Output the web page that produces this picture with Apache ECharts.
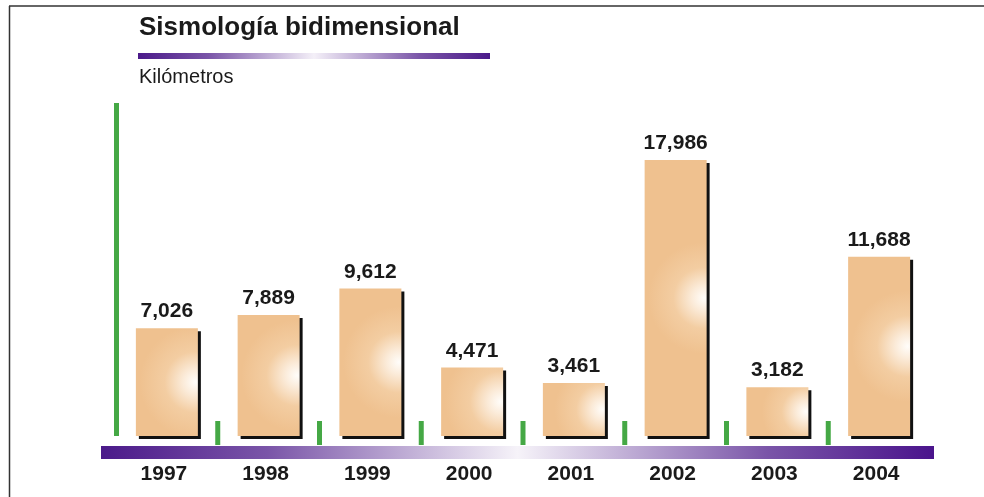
<!DOCTYPE html>
<html>
<head>
<meta charset="utf-8">
<script src="https://cdn.jsdelivr.net/npm/echarts@6/dist/echarts.min.js"></script>
<style>
  html, body { margin: 0; padding: 0; background: #fff; }
  #chart { width: 984px; height: 497px; }
</style>
</head>
<body>
<div id="chart"></div>
<script>
// Seismic 2D survey, kilometres per year
const years = ['1997', '1998', '1999', '2000', '2001', '2002', '2003', '2004'];
const kilometres = [7026, 7889, 9612, 4471, 3461, 17986, 3182, 11688];
const titleText = 'Sismología bidimensional';
const unitText = 'Kilómetros';

const FONT = '"Liberation Sans", Arial, Helvetica, sans-serif';
const GREEN = '#45a845';
const PURPLE = '#4b1a8a';

const chart = echarts.init(document.getElementById('chart'));

const fmt = v => v.toLocaleString('en-US');

chart.setOption({
  animation: false,
  backgroundColor: '#ffffff',
  grid: { left: 116, right: 54, top: 103, bottom: 61 },
  xAxis: {
    type: 'category',
    data: years,
    axisLine: { show: false },
    axisTick: { show: false },
    axisLabel: {
      margin: 28,
      fontFamily: FONT,
      fontWeight: 'bold',
      fontSize: 21,
      color: '#1a1a1a',
      padding: [0, 6, 0, 0]
    }
  },
  yAxis: {
    type: 'value',
    min: 0,
    max: 21700,
    axisLine: { show: true, lineStyle: { color: GREEN, width: 5, cap: 'butt' } },
    axisTick: { show: false },
    axisLabel: { show: false },
    splitLine: { show: false }
  },
  series: [
    {
      type: 'bar',
      data: kilometres,
      barWidth: 62,
      z: 3,
      itemStyle: {
        color: {
          type: 'radial', x: 0.96, y: 0.5, r: 0.9,
          colorStops: [
            { offset: 0, color: '#fffdfa' },
            { offset: 0.22, color: '#fbebd9' },
            { offset: 0.55, color: '#f3cda2' },
            { offset: 1, color: '#efc18f' }
          ]
        },
        shadowColor: '#111',
        shadowBlur: 0,
        shadowOffsetX: 3,
        shadowOffsetY: 3
      },
      label: {
        show: true,
        position: 'top',
        distance: 6,
        formatter: p => fmt(p.value),
        fontFamily: FONT,
        fontWeight: 'bold',
        fontSize: 21,
        color: '#1a1a1a'
      }
    },
    {
      // green separators on the band boundaries between years
      type: 'custom',
      z: 2,
      clip: false,
      data: years.slice(1).map(y => [y, 0]),
      renderItem: (params, api) => {
        const c = api.coord([api.value(0), 0]);
        const band = api.size([1, 0])[0];
        return {
          type: 'rect',
          shape: { x: c[0] - band / 2 - 2.5, y: c[1] - 15, width: 5, height: 24 },
          style: { fill: GREEN }
        };
      }
    }
  ],
  graphic: [
    // frame edges
    { type: 'line', shape: { x1: 9, y1: 6, x2: 984, y2: 6 }, style: { stroke: '#333', lineWidth: 1.5 } },
    { type: 'line', shape: { x1: 9.5, y1: 6, x2: 9.5, y2: 497 }, style: { stroke: '#333', lineWidth: 1.5 } },
    // heading
    {
      type: 'text', left: 139, top: 15,
      style: { text: titleText, font: 'bold 26px ' + FONT, fill: '#1a1a1a' }
    },
    {
      type: 'rect', shape: { x: 138, y: 53, width: 352, height: 6 },
      style: {
        fill: new echarts.graphic.LinearGradient(0, 0, 1, 0, [
          { offset: 0, color: PURPLE },
          { offset: 0.2, color: '#7a55a8' },
          { offset: 0.5, color: '#f4f0f8' },
          { offset: 0.8, color: '#7a55a8' },
          { offset: 1, color: PURPLE }
        ])
      }
    },
    {
      type: 'text', left: 139, top: 67,
      style: { text: unitText, font: '20px ' + FONT, fill: '#1a1a1a' }
    },
    // axis band
    {
      type: 'rect', shape: { x: 101, y: 446, width: 833, height: 13 },
      z: 1,
      style: {
        fill: new echarts.graphic.LinearGradient(0, 0, 1, 0, [
          { offset: 0, color: PURPLE },
          { offset: 0.2, color: '#7a55a8' },
          { offset: 0.5, color: '#f6f3f9' },
          { offset: 0.8, color: '#7a55a8' },
          { offset: 1, color: '#4a148c' }
        ])
      }
    }
  ]
});
</script>
</body>
</html>
